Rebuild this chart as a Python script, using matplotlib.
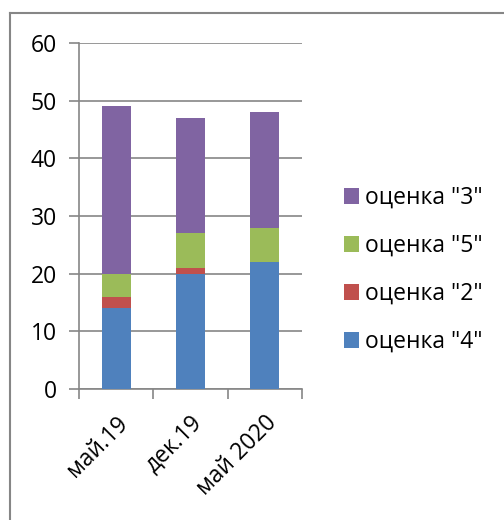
import matplotlib.pyplot as plt
import numpy as np
from matplotlib.lines import Line2D

# data
categories = ['май.19', 'дек.19', 'май 2020']
series_names = ['оценка "4"', 'оценка "2"', 'оценка "5"', 'оценка "3"']
grade4 = [14, 20, 22]
grade2 = [2, 1, 0]
grade5 = [4, 6, 6]
grade3 = [29, 20, 20]
colors = ['#4F81BD', '#C0504D', '#9BBB59', '#8064A2']

plt.rcParams['font.family'] = ['Open Sans', 'DejaVu Sans']
fs = 16.5

fig = plt.figure(figsize=(5.04, 5.2), dpi=100)
ax = fig.add_axes([79 / 504, 1 - 389 / 520, (302 - 79) / 504, (389 - 43) / 520])

x = np.arange(len(categories))
bottom = np.zeros(len(categories))
handles = []
for name, vals, c in zip(series_names, [grade4, grade2, grade5, grade3], colors):
    b = ax.bar(x, vals, width=0.39, bottom=bottom, color=c, label=name, zorder=3)
    bottom += np.array(vals)
    handles.append(b)

ax.set_xlim(-0.5, 2.5)
ax.set_ylim(0, 60)
ax.set_yticks(range(0, 61, 10))
ax.yaxis.grid(True, color='#868686', linewidth=1.2, zorder=0)
for s in ['top', 'right']:
    ax.spines[s].set_visible(False)
for s in ['left', 'bottom']:
    ax.spines[s].set_color('#868686')
    ax.spines[s].set_linewidth(1.2)
ax.tick_params(axis='y', length=7, color='#868686', width=1.2, labelsize=fs, pad=9)
ax.set_xticks([-0.5, 0.5, 1.5, 2.5])
ax.set_xticklabels([])
ax.tick_params(axis='x', length=7, color='#868686', width=1.2)
ax.set_xticks(x, minor=True)
ax.set_xticklabels(categories, minor=True, rotation=45, ha='right', va='top',
                   rotation_mode='anchor', fontsize=fs)
ax.tick_params(axis='x', which='minor', length=0, pad=16)

# legend, top series first
ax.legend(handles[::-1], series_names[::-1], loc='center left',
          bbox_to_anchor=(323 / 504, 1 - 270 / 520), bbox_transform=fig.transFigure,
          frameon=False, fontsize=fs, handlelength=0.65, handleheight=0.65,
          handletextpad=0.3, labelspacing=1.05)

# chart border (left and top only visible)
fig.add_artist(Line2D([10 / 504, 10 / 504], [0, 1 - 13 / 520], color='#868686',
                      linewidth=1.5, transform=fig.transFigure))
fig.add_artist(Line2D([10 / 504, 1], [1 - 13 / 520, 1 - 13 / 520], color='#868686',
                      linewidth=1.5, transform=fig.transFigure))

fig.savefig('out.png', dpi=100)
